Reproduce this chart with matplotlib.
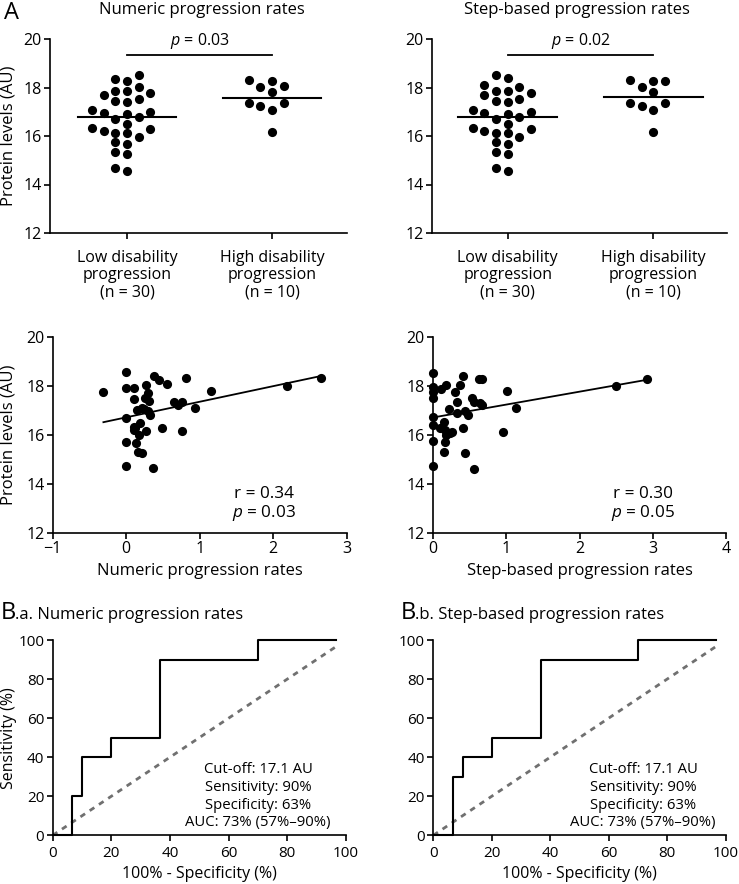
import numpy as np
import matplotlib
matplotlib.use("Agg")
import matplotlib.pyplot as plt

plt.rcParams['font.family'] = ['Open Sans', 'DejaVu Sans']
plt.rcParams['mathtext.fontset'] = 'custom'
plt.rcParams['mathtext.rm'] = 'Open Sans'
plt.rcParams['mathtext.it'] = 'Open Sans:italic'

# ---- data ----
groups = ["Low disability\nprogression\n(n = 30)", "High disability\nprogression\n(n = 10)"]

num_low = [18.52, 17.87, 17.76, 18.28, 18.35, 18.03, 17.87, 17.69, 17.46, 17.41,
           17.51, 17.00, 16.91, 17.07, 16.96, 16.70, 16.77, 16.49, 16.29, 16.14,
           15.97, 16.11, 16.21, 16.34, 15.74, 15.66, 15.33, 15.26, 14.57, 14.69]
num_high = [18.07, 18.31, 18.03, 17.80, 17.35, 17.24, 17.37, 17.07, 16.15, 18.28]
num_med = [16.77, 17.58]
num_p = "0.03"

step_low = [18.10, 17.87, 17.76, 18.38, 18.52, 17.69, 17.87, 18.03, 17.46, 17.41,
            17.51, 17.00, 16.91, 17.07, 16.96, 16.70, 16.77, 16.49, 16.29, 16.14,
            15.97, 16.11, 16.21, 16.34, 15.74, 15.66, 15.33, 15.26, 14.57, 14.69]
step_high = [18.28, 18.31, 18.28, 18.03, 17.80, 17.35, 17.24, 17.37, 17.07, 16.15]
step_med = [16.77, 17.60]
step_p = "0.02"

num_rate = [-0.31, 0.00, 0.00, 0.11, 0.10, 0.00, 0.00, 0.00, 0.27, 0.29,
            0.25, 0.31, 0.15, 0.21, 0.29, 0.33, 0.10, 0.10, 0.19, 0.27,
            0.17, 0.14, 0.16, 0.22, 0.36, 0.38, 0.44, 0.55, 0.82, 0.49,
            0.65, 0.71, 0.76, 0.76, 0.94, 1.15, 2.19, 2.65, 0.12, 0.24]
num_prot = [17.75, 18.57, 17.91, 17.91, 17.47, 16.68, 15.73, 14.74, 18.05, 17.73,
            17.50, 17.39, 17.02, 17.09, 16.98, 16.82, 16.34, 16.20, 16.50, 16.18,
            16.00, 15.69, 15.29, 15.25, 14.63, 18.42, 18.25, 18.09, 18.32, 16.27,
            17.36, 17.23, 17.36, 16.16, 17.09, 17.82, 18.02, 18.32, 16.30, 17.05]
num_r, num_rp = "0.34", "0.03"

step_rate = [0.00, 0.00, 0.00, 0.00, 0.00, 0.00, 0.00, 0.00, 0.11, 0.18,
             0.21, 0.14, 0.09, 0.18, 0.16, 0.14, 0.25, 0.30, 0.33, 0.32,
             0.37, 0.40, 0.44, 0.47, 0.40, 0.43, 0.55, 0.53, 0.56, 0.63,
             0.66, 0.64, 0.67, 1.01, 0.96, 1.13, 2.50, 2.93, 0.16, 0.23]
step_prot = [18.55, 17.95, 17.77, 17.50, 16.72, 16.41, 15.75, 14.73, 17.87, 18.05,
             17.06, 16.52, 16.27, 16.00, 15.70, 15.29, 16.13, 17.75, 17.36, 16.89,
             18.05, 18.43, 16.98, 16.82, 16.27, 15.25, 14.61, 17.50, 17.36, 18.29,
             18.30, 17.30, 17.23, 17.81, 16.13, 17.09, 18.02, 18.29, 16.20, 16.10]
step_r, step_rp = "0.30", "0.05"

roc_fpr = [0, 6.67, 10, 20, 36.67, 70, 96.67]
roc_tpr_a = [0, 20, 40, 50, 90, 100, 100]
roc_tpr_b = [0, 30, 40, 50, 90, 100, 100]
roc_text = ["Cut-off: 17.1 AU", "Sensitivity: 90%", "Specificity: 63%", "AUC: 73% (57%\u201390%)"]

W, H = 739, 884
fig = plt.figure(figsize=(W / 100, H / 100), dpi=100)
FS = 11.5


def px_axes(l, t, r, b):
    return fig.add_axes([l / W, 1 - b / H, (r - l) / W, (b - t) / H])


def style(ax):
    for s in ['top', 'right']:
        ax.spines[s].set_visible(False)
    for s in ['left', 'bottom']:
        ax.spines[s].set_linewidth(1.2)
    ax.tick_params(direction='out', length=4, width=1.2, labelsize=FS, pad=2)


def swarm(vals, step, ypx, dia=9.0):
    # simple column-based swarm layout, returns offset in columns
    order = np.argsort(vals)
    placed = []
    off = np.zeros(len(vals))
    for i in order:
        for k in [0, -1, 1, -2, 2, -3, 3, -4, 4]:
            ok = True
            for j, kk in placed:
                if kk == k and abs(vals[i] - vals[j]) * ypx < dia:
                    ok = False
                    break
            if ok:
                off[i] = k * step
                placed.append((i, k))
                break
    return off


def dot_panel(ax, low, high, med, ptxt, xl, xr):
    style(ax)
    upx = (ax.get_position().width * W) / (xr - xl)
    ypx = ax.get_position().height * H / 8
    for g, vals in enumerate([low, high]):
        v = np.array(vals)
        off = swarm(v, 11.7 / upx, ypx)
        ax.plot(g + off, v, 'o', color='black', ms=6.6, mew=0, clip_on=False)
        ax.plot([g - 0.34, g + 0.34], [med[g], med[g]], color='black', lw=1.5)
    ax.plot([0, 1], [19.34, 19.34], color='black', lw=1.3, clip_on=False)
    ax.text(0.5, 19.5, r'$\it{p}$ = ' + ptxt, ha='center', va='bottom', fontsize=FS)
    ax.set_xlim(xl, xr)
    ax.set_ylim(12, 20)
    ax.set_yticks([12, 14, 16, 18, 20])
    ax.set_xticks([0, 1])
    ax.set_xticklabels(groups, linespacing=1.12)
    ax.tick_params(axis='x', pad=8)


def scatter_panel(ax, x, y, r, p, xlim, xlabel, tx):
    style(ax)
    x = np.array(x)
    y = np.array(y)
    ax.plot(x, y, 'o', color='black', ms=6.6, mew=0, clip_on=False)
    k, b0 = np.polyfit(x, y, 1)
    xs = np.array([x.min(), x.max()])
    ax.plot(xs, k * xs + b0, color='black', lw=1.3)
    ax.set_xlim(*xlim)
    ax.set_ylim(12, 20)
    ax.set_yticks([12, 14, 16, 18, 20])
    ax.set_xticks(np.arange(xlim[0], xlim[1] + 1))
    ax.set_xlabel(xlabel, fontsize=FS + 0.5)
    ax.xaxis.set_label_coords(0.5, -0.155)
    ax.text(tx, 13.58, 'r = ' + r, ha='center', va='center', fontsize=FS + 0.8)
    ax.text(tx, 12.80, r'$\it{p}$ = ' + p, ha='center', va='center', fontsize=FS + 0.8)


def roc_panel(ax, tpr, tx):
    style(ax)
    ax.plot([0, 96.67], [0, 96.67], ls=(0, (2, 2)), color='#707070', lw=2)
    ax.plot(roc_fpr, tpr, drawstyle='steps-post', color='black', lw=1.5, clip_on=False)
    ax.set_xlim(0, 100)
    ax.set_ylim(0, 100)
    ax.set_xticks(range(0, 101, 20))
    ax.set_yticks(range(0, 101, 20))
    ax.tick_params(labelsize=FS - 0.5)
    ax.tick_params(axis='x', pad=3.5)
    ax.set_xlabel('100% - Specificity (%)', fontsize=FS)
    ax.xaxis.set_label_coords(0.5, -0.158)
    for i, t in enumerate(roc_text):
        ax.text(tx, 33.9 - 9.2 * i, t, ha='center', va='center', fontsize=FS - 0.8)


ax1 = px_axes(50, 39, 347, 233)
dot_panel(ax1, num_low, num_high, num_med, num_p, -0.531, 1.517)
ax1.set_ylabel('Protein levels (AU)', fontsize=FS + 0.5)
ax1.yaxis.set_label_coords(-0.112, 0.5)

ax2 = px_axes(431.7, 39, 726.7, 233)
dot_panel(ax2, step_low, step_high, step_med, step_p, -0.522, 1.504)

ax3 = px_axes(52.7, 337.3, 346.7, 532.7)
scatter_panel(ax3, num_rate, num_prot, num_r, num_rp, (-1, 3), 'Numeric progression rates', 1.87)
ax3.set_ylabel('Protein levels (AU)', fontsize=FS + 0.5)
ax3.yaxis.set_label_coords(-0.122, 0.5)

ax4 = px_axes(433.3, 337.3, 725.7, 532.7)
scatter_panel(ax4, step_rate, step_prot, step_r, step_rp, (0, 4), 'Step-based progression rates', 2.87)

ax5 = px_axes(52.7, 640, 346, 835.3)
roc_panel(ax5, roc_tpr_a, 70)
ax5.set_ylabel('Sensitivity (%)', fontsize=FS)
ax5.yaxis.set_label_coords(-0.122, 0.5)

ax6 = px_axes(433.3, 640, 725.7, 835.3)
roc_panel(ax6, roc_tpr_b, 71.7)

# titles and panel letters
fig.text(4 / W, 1 - 19 / H, 'A', fontsize=17, va='baseline')
fig.text(202 / W, 1 - 14 / H, 'Numeric progression rates', fontsize=12, ha='center', va='baseline')
fig.text(577 / W, 1 - 14 / H, 'Step-based progression rates', fontsize=12, ha='center', va='baseline')
fig.text(1 / W, 1 - 619 / H, 'B', fontsize=17, va='baseline')
fig.text(15 / W, 1 - 619 / H, '.a. Numeric progression rates', fontsize=12, va='baseline')
fig.text(401 / W, 1 - 619 / H, 'B', fontsize=17, va='baseline')
fig.text(415 / W, 1 - 619 / H, '.b. Step-based progression rates', fontsize=12, va='baseline')

fig.savefig('out.png', dpi=100)
